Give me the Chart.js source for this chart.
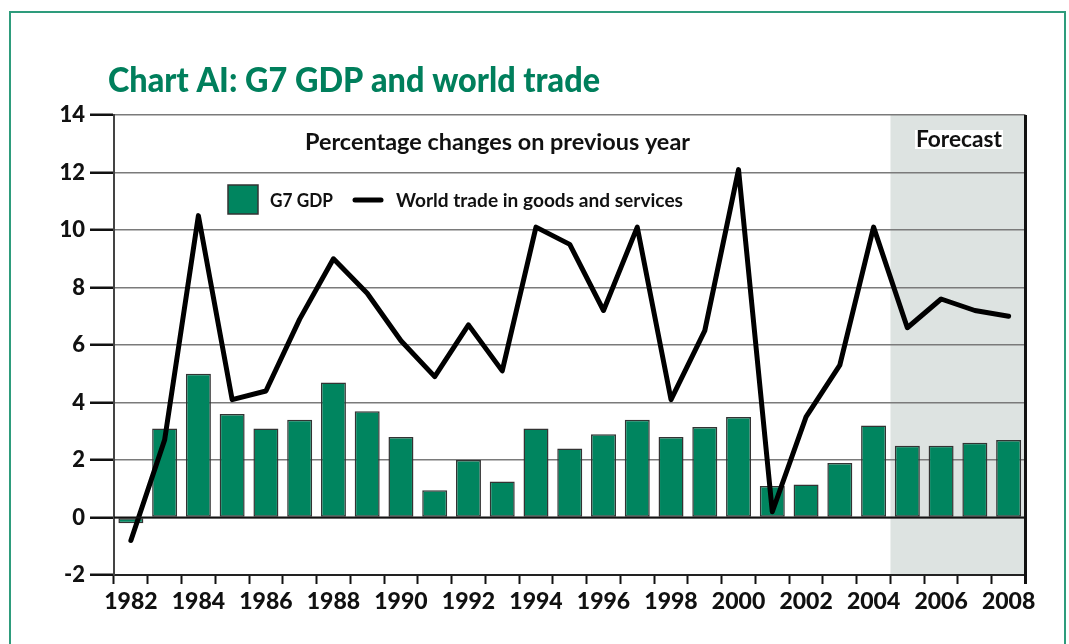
<!DOCTYPE html>
<html>
<head>
<meta charset="utf-8">
<script src="https://cdn.jsdelivr.net/npm/chart.js@4/dist/chart.umd.min.js"></script>
<style>
  html, body { margin: 0; padding: 0; background: #fff; }
  #wrap { width: 1069px; height: 644px; position: relative; }
</style>
</head>
<body>
<div id="wrap"><canvas id="chart" width="1069" height="644"></canvas></div>
<script>
const years = ["1982","1983","1984","1985","1986","1987","1988","1989","1990","1991","1992","1993","1994","1995",
  "1996","1997","1998","1999","2000","2001","2002","2003","2004","2005","2006","2007","2008"];
const g7Gdp = [-0.2, 3.1, 5.0, 3.6, 3.1, 3.4, 4.7, 3.7, 2.8, 0.95, 2.0, 1.25, 3.1, 2.4,
  2.9, 3.4, 2.8, 3.15, 3.5, 1.1, 1.15, 1.9, 3.2, 2.5, 2.5, 2.6, 2.7];
const worldTrade = [-0.8, 2.7, 10.5, 4.1, 4.4, 6.9, 9.0, 7.8, 6.15, 4.9, 6.7, 5.1, 10.1, 9.5,
  7.2, 10.1, 4.1, 6.5, 12.1, 0.2, 3.5, 5.3, 10.1, 6.6, 7.6, 7.2, 7.0];
const yTicks = [-2, 0, 2, 4, 6, 8, 10, 12, 14];
const forecastFrom = "2005";

const GREEN = "#00855f";
const TITLE_GREEN = "#007f5c";
const FONT = "Lato, 'Open Sans', sans-serif";

// draw text squeezed/stretched to a given width (the original font is a narrow Gill Sans)
function fitText(ctx, text, x, y, width, font, color) {
  ctx.save();
  ctx.font = font;
  ctx.fillStyle = color;
  ctx.textBaseline = "alphabetic";
  ctx.textAlign = "left";
  const w = ctx.measureText(text).width;
  ctx.translate(x, y);
  ctx.scale(width / w, 1);
  ctx.fillText(text, 0, 0);
  ctx.restore();
}

const decorations = {
  id: "decorations",
  beforeDraw(chart) {
    const ctx = chart.ctx;
    const xs = chart.scales.x, ys = chart.scales.y;
    const half = (xs.getPixelForValue(1) - xs.getPixelForValue(0)) / 2;
    const start = xs.getPixelForValue(years.indexOf(forecastFrom)) - half;
    ctx.save();
    ctx.fillStyle = "#fff";
    ctx.fillRect(0, 0, chart.width, chart.height);
    // forecast shading
    ctx.fillStyle = "#dde3e1";
    ctx.fillRect(start, ys.top, xs.right - start, ys.bottom - ys.top);
    // outer frame
    ctx.strokeStyle = "#2e9c7c";
    ctx.lineWidth = 2;
    ctx.strokeRect(10, 12, 1055, 700);
    ctx.restore();
  },
  afterDatasetsDraw(chart) {
    const ctx = chart.ctx;
    const xs = chart.scales.x, ys = chart.scales.y;
    ctx.save();
    // zero line
    const y0 = ys.getPixelForValue(0);
    ctx.strokeStyle = "#111";
    ctx.lineWidth = 2;
    ctx.beginPath();
    ctx.moveTo(xs.left, y0);
    ctx.lineTo(xs.right, y0);
    ctx.stroke();
    // right border of plot
    ctx.lineWidth = 3;
    ctx.beginPath();
    ctx.moveTo(xs.right, ys.top);
    ctx.lineTo(xs.right, ys.bottom + 9);
    ctx.stroke();
    ctx.restore();
  },
  afterDraw(chart) {
    const ctx = chart.ctx;
    // title
    fitText(ctx, "Chart AI: G7 GDP and world trade", 108, 92, 492, "900 35px " + FONT, TITLE_GREEN);
    // subtitle inside plot
    fitText(ctx, "Percentage changes on previous year", 305, 150, 385, "bold 22px " + FONT, "#111");
    // forecast label
    ctx.save();
    ctx.fillStyle = "#fff";
    ctx.fillRect(915, 130, 88, 19);
    ctx.restore();
    fitText(ctx, "Forecast", 916, 147, 86, "bold 22px " + FONT, "#111");
    // legend
    ctx.save();
    ctx.fillStyle = GREEN;
    ctx.fillRect(228, 185, 30, 29);
    ctx.strokeStyle = "#333";
    ctx.lineWidth = 1.5;
    ctx.strokeRect(228, 185, 30, 29);
    ctx.strokeStyle = "#000";
    ctx.lineWidth = 5;
    ctx.lineCap = "round";
    ctx.beginPath();
    ctx.moveTo(355, 200);
    ctx.lineTo(381, 200);
    ctx.stroke();
    ctx.restore();
    fitText(ctx, "G7 GDP", 270, 207, 63, "bold 18px " + FONT, "#111");
    fitText(ctx, "World trade in goods and services", 396, 207, 287, "bold 18px " + FONT, "#111");
  }
};

new Chart(document.getElementById("chart"), {
  data: {
    labels: years,
    datasets: [
      {
        type: "line",
        label: "World trade in goods and services",
        data: worldTrade,
        borderColor: "#000",
        borderWidth: 5,
        borderJoinStyle: "round",
        borderCapStyle: "round",
        pointRadius: 0,
        tension: 0,
        order: 0
      },
      {
        type: "bar",
        label: "G7 GDP",
        data: g7Gdp,
        backgroundColor: GREEN,
        borderColor: "#333",
        borderWidth: 1.5,
        borderSkipped: false,
        categoryPercentage: 1,
        barPercentage: 0.74,
        order: 1
      }
    ]
  },
  options: {
    responsive: false,
    animation: false,
    layout: { padding: { top: 115, right: 43.5, left: 0, bottom: 0 } },
    plugins: {
      legend: { display: false },
      tooltip: { enabled: false }
    },
    scales: {
      x: {
        type: "category",
        offset: true,
        afterFit: (s) => { s.height = 69; },
        grid: {
          offset: true,
          drawOnChartArea: false,
          drawTicks: true,
          tickLength: 9,
          tickColor: "#111",
          tickWidth: 2
        },
        border: { color: "#222", width: 2 },
        ticks: {
          autoSkip: false,
          maxRotation: 0,
          padding: 4,
          color: "#111",
          font: { family: FONT, weight: "900", size: 23 },
          callback: (v, i) => (i % 2 === 0 ? years[i] : "")
        }
      },
      y: {
        min: -2,
        max: 14,
        afterFit: (s) => { s.width = 114; },
        afterBuildTicks: (s) => { s.ticks = yTicks.map(v => ({ value: v })); },
        grid: {
          color: "#7a7a7a",
          lineWidth: 1.5,
          tickColor: "#111",
          tickWidth: 2.5,
          tickLength: 24
        },
        border: { color: "#444", width: 2 },
        ticks: {
          padding: 5,
          color: "#111",
          font: { family: FONT, weight: "900", size: 22 },
          callback: (v) => String(v)
        }
      }
    }
  },
  plugins: [decorations]
});
</script>
</body>
</html>
